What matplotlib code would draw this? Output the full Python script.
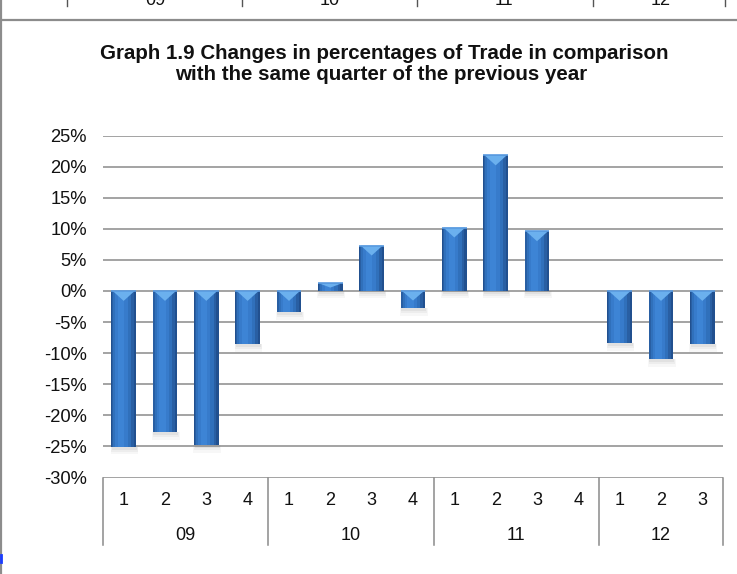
import matplotlib
matplotlib.use("Agg")
import matplotlib.pyplot as plt
from matplotlib.patches import Polygon
from matplotlib.transforms import blended_transform_factory
import numpy as np

plt.rcParams['font.family'] = ['Liberation Sans', 'DejaVu Sans']

# ---- data ----
years = ["09", "10", "11", "12"]
quarters_per_year = [4, 4, 4, 3]
quarter_labels = ["1", "2", "3", "4", "1", "2", "3", "4", "1", "2", "3", "4", "1", "2", "3"]
values = [-25.1, -22.7, -24.8, -8.6,
          -3.4, 1.2, 7.3, -2.8,
          10.2, 21.8, 9.6, 0.0,
          -8.4, -11.0, -8.6]
yticks = [25, 20, 15, 10, 5, 0, -5, -10, -15, -20, -25, -30]
title_line1 = "Graph 1.9 Changes in percentages of Trade in comparison"
title_line2 = "with the same quarter of the previous year"
prev_table_labels = ["09", "10", "11", "12"]

W, H = 737, 574
fig = plt.figure(figsize=(W / 100, H / 100), dpi=100)

def fx(px):
    return px / W

def fy(py):
    return 1 - py / H

ax = fig.add_axes([fx(103), fy(477.5), fx(723) - fx(103), fy(135.5) - fy(477.5)])
ax.set_xlim(-0.5, len(values) - 0.5)
ax.set_ylim(-30, 25)
for s in ax.spines.values():
    s.set_visible(False)
ax.set_xticks([])
ax.set_yticks(yticks)
ax.set_yticklabels([f"{t}%" for t in yticks], fontsize=13.2, color='#111111')
ax.tick_params(axis='y', length=0, pad=11.5)
for t in yticks:
    ax.axhline(t, color='#8a8a8a', lw=1.1, zorder=1)

x = np.arange(len(values))
vals = np.array(values)
w = 0.59

# soft shadows below bars
nz = np.abs(vals) > 0.05
bottoms = np.minimum(vals, 0)
for dw, dh, a in [(0.08, 1.2, 0.06), (0.05, 0.8, 0.08), (0.02, 0.45, 0.10)]:
    ax.bar(x[nz] + 0.02, -dh, bottom=bottoms[nz], width=w + dw, color='#808080',
           alpha=a, lw=0, zorder=2)

# layered bars to suggest cylinder shading
layers = [(w, 0.0, '#21508f'), (0.53, -0.02, '#295fa3'), (0.43, -0.035, '#3070bb'),
          (0.30, -0.05, '#377bcb'), (0.16, -0.06, '#3d84d5')]
for lw_, off, col in layers:
    ax.bar(x + off, vals, width=lw_, color=col, lw=0, zorder=3)

# light top-face triangles
for xi, v in zip(x, vals):
    if abs(v) < 0.05:
        continue
    top = max(v, 0)
    d = min(1.6, abs(v) * 0.55)
    tri = Polygon([(xi - w / 2 + 0.03, top), (xi + w / 2 - 0.03, top), (xi, top - d)],
                  closed=True, facecolor='#6bb0ee', edgecolor='none', zorder=4)
    ax.add_patch(tri)
    ax.plot([xi - w / 2, xi + w / 2], [top, top], color='#5a9be0', lw=1.2, zorder=4,
            solid_capstyle='butt')

# category axis (two-level)
trans = blended_transform_factory(ax.transData, fig.transFigure)
bounds = np.concatenate([[0], np.cumsum(quarters_per_year)]) - 0.5
for b in bounds:
    ax.plot([b, b], [fy(477.5), fy(545)], transform=trans, color='#8a8a8a', lw=1.1,
            clip_on=False)
for xi, lab in zip(x, quarter_labels):
    ax.text(xi, fy(500.5), lab, transform=trans, ha='center', va='center', fontsize=13,
            color='#111111')
for i, yr in enumerate(years):
    c = (bounds[i] + bounds[i + 1]) / 2
    ax.text(c, fy(536), yr, transform=trans, ha='center', va='center', fontsize=13,
            color='#111111')

# title
fig.text(fx(384), fy(59), title_line1, ha='center', va='baseline', fontsize=14.8,
         fontweight='bold', color='#111111')
fig.text(fx(381), fy(80), title_line2, ha='center', va='baseline', fontsize=14.8,
         fontweight='bold', color='#111111')

# frame and remnant of previous table
frame_col = '#8c8c8c'
fig.add_artist(plt.Line2D([fx(0), fx(W)], [fy(20), fy(20)], transform=fig.transFigure,
                          color=frame_col, lw=1.6))
fig.add_artist(plt.Line2D([fx(1), fx(1)], [fy(0), fy(H)], transform=fig.transFigure,
                          color=frame_col, lw=1.6))
for px in [67, 242, 417, 593, 725]:
    fig.add_artist(plt.Line2D([fx(px), fx(px)], [fy(0), fy(6)], transform=fig.transFigure,
                              color='#555555', lw=1.0))
for px, lab in zip([155, 330, 504, 661], prev_table_labels):
    fig.text(fx(px), fy(5), lab, ha='center', va='baseline', fontsize=13, color='#111111')
fig.add_artist(plt.Line2D([fx(1), fx(1)], [fy(555), fy(562)], transform=fig.transFigure,
                          color='#1a3cff', lw=2.0))

fig.savefig("out.png", dpi=100)
